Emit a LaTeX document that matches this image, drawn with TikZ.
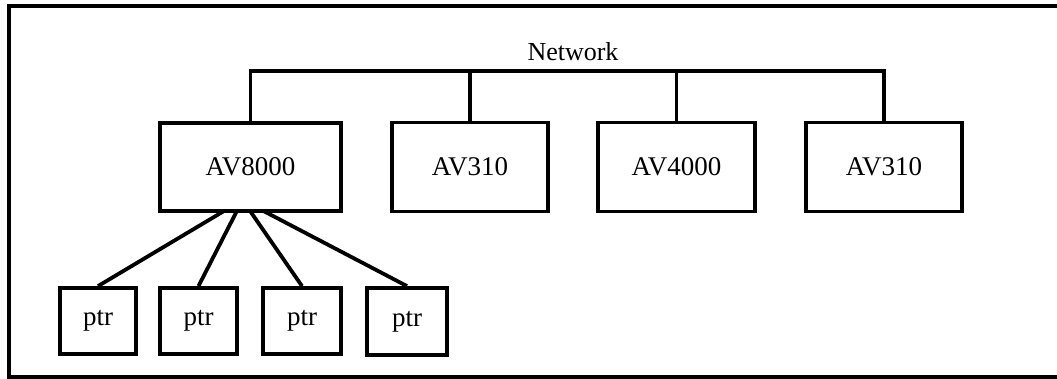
\documentclass[tikz,border=0pt]{standalone}
\usepackage{fontspec}
\setmainfont{Liberation Serif}
\usetikzlibrary{backgrounds}
\begin{document}
\begin{tikzpicture}[x=0.5pt,y=-0.5pt,
  box/.style={draw,line width=1.9pt,fill=white,inner sep=0pt,font=\fontsize{13.5}{16}\selectfont},
  wire/.style={line width=1.7pt},
  frame/.style={line width=1.8pt}]
\useasboundingbox (0,0) rectangle (1057,379);
\draw[frame] (1057,6) -- (9,6) -- (9,377) -- (1057,377);
\node[font=\fontsize{13}{15}\selectfont] (net) at (573,52) {Network};
\node[box,minimum width=90.5pt,minimum height=44pt] (av8) at (250.5,167) {AV8000};
\node[box,minimum width=78pt,minimum height=44.5pt] (av3a) at (470,167) {AV310};
\node[box,minimum width=78.5pt,minimum height=44.5pt] (av4) at (676.5,167) {AV4000};
\node[box,minimum width=78pt,minimum height=44.5pt] (av3b) at (884,167) {AV310};
\node[box,minimum width=38pt,minimum height=33pt] (p1) at (98,321) {ptr};
\node[box,minimum width=38.5pt,minimum height=33pt] (p2) at (198.5,321) {ptr};
\node[box,minimum width=39pt,minimum height=33pt] (p3) at (302,321) {ptr};
\node[box,minimum width=40pt,minimum height=33.5pt] (p4) at (407,321.5) {ptr};
\coordinate (busL) at (250.5,71);
\coordinate (busR) at (884,71);
\draw[wire] (av8.north) -- (busL) -- (busR) -- (av3b.north);
\draw[wire] (av3a.north) -- (av3a.north |- busL);
\draw[wire] (av4.north) -- (av4.north |- busL);
\coordinate (hub) at (242.5,200);
\begin{scope}[on background layer]
\draw[wire,line width=1.9pt] (hub) -- (p1.north);
\draw[wire,line width=1.9pt] (hub) -- (p2.north);
\draw[wire,line width=1.9pt] (hub) -- (p3.north);
\draw[wire,line width=1.9pt] (hub) -- (p4.north);
\end{scope}
\end{tikzpicture}
\end{document}
